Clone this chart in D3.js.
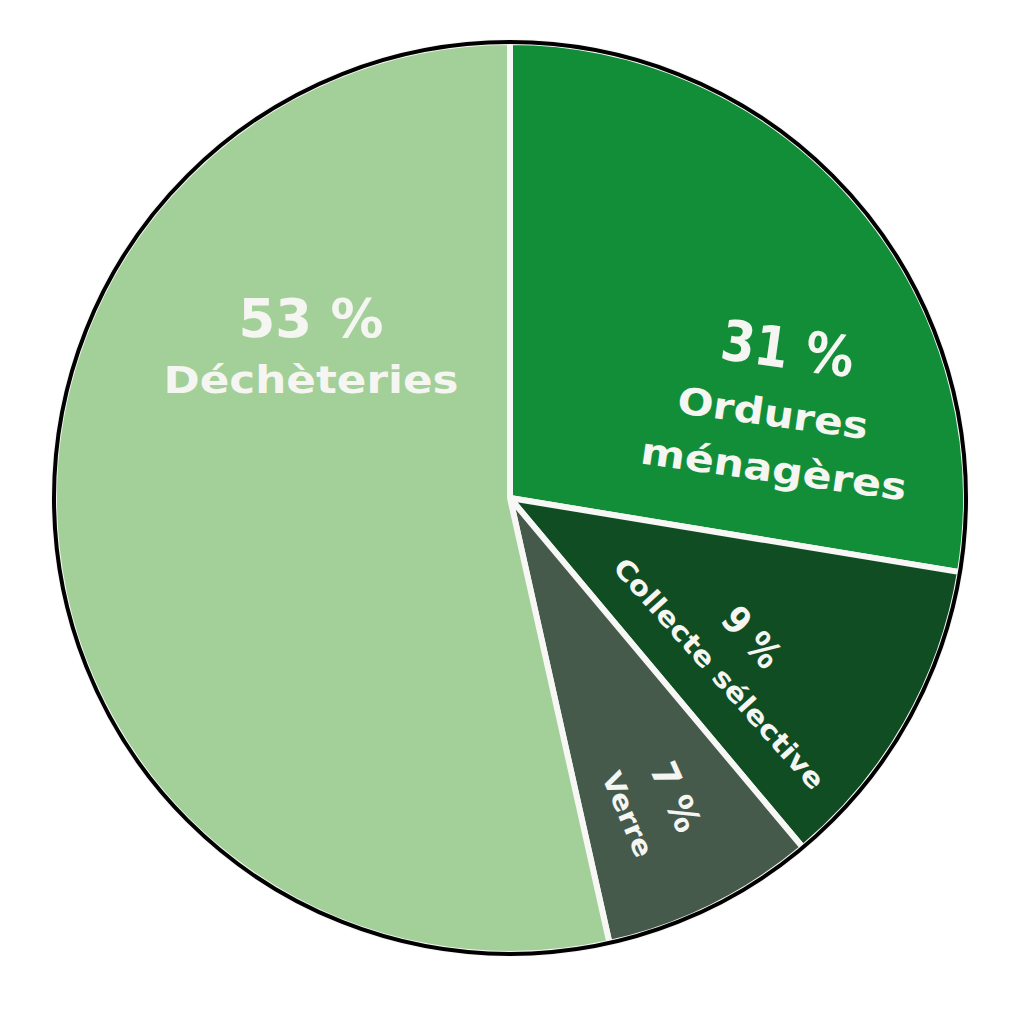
<!DOCTYPE html>
<html>
<head>
<meta charset="utf-8">
<script src="https://cdn.jsdelivr.net/npm/d3@7"></script>
<style>
  html, body { margin: 0; padding: 0; background: #ffffff; }
  svg { display: block; }
  text { font-family: "DejaVu Sans", sans-serif; font-weight: bold; fill: #f5f5f2; }
</style>
</head>
<body>
<svg id="chart" width="1024" height="1019"></svg>
<script>
const categories = ["Ordures ménagères", "Collecte sélective", "Verre", "Déchèteries"];
const sliceValues = [27.6, 11.3, 7.6, 53.5];
const percentLabels = ["31 %", "9 %", "7 %", "53 %"];
const nameLines = [["Ordures", "ménagères"], ["Collecte sélective"], ["Verre"], ["Déchèteries"]];
const colors = ["#138e38", "#114d23", "#465a4c", "#a3cf98"];

// Layout (not data)
const cx = 510, cy = 498, radius = 456;
const labelLayout = [
  { pct: { x: 785, y: 368, size: 56, rot: 8, len: 134 },
    names: [ { x: 771, y: 426, size: 37, rot: 8, len: 192 }, { x: 772, y: 482, size: 37, rot: 8, len: 268 } ] },
  { pct: { x: 742, y: 646, size: 38, rot: 48, len: 68 },
    names: [ { x: 712, y: 680, size: 27, rot: 48, len: 300 } ] },
  { pct: { x: 664, y: 802, size: 37, rot: 66, len: 72 },
    names: [ { x: 619, y: 818, size: 27, rot: 67, len: 90 } ] },
  { pct: { x: 311, y: 337, size: 54, rot: 0, len: 145 },
    names: [ { x: 311, y: 393, size: 37, rot: 0, len: 295 } ] }
];

const svg = d3.select("#chart");
const g = svg.append("g").attr("transform", `translate(${cx},${cy})`);

const pie = d3.pie().sort(null).value(d => d).startAngle(0).endAngle(2 * Math.PI);
const arcs = pie(sliceValues);
const arc = d3.arc().innerRadius(0).outerRadius(radius);

g.selectAll("path.slice")
  .data(arcs)
  .join("path")
  .attr("class", "slice")
  .attr("d", arc)
  .attr("fill", (d, i) => colors[i])
  .attr("stroke", "#f7f7f5")
  .attr("stroke-width", 6)
  .attr("stroke-linejoin", "round");

g.append("circle")
  .attr("r", radius)
  .attr("fill", "none")
  .attr("stroke", "#000")
  .attr("stroke-width", 4);

const labels = svg.append("g");
function addText(p, str) {
  labels.append("text")
    .attr("transform", `translate(${p.x},${p.y}) rotate(${p.rot})`)
    .attr("text-anchor", "middle")
    .attr("textLength", p.len)
    .attr("lengthAdjust", "spacingAndGlyphs")
    .style("font-size", p.size + "px")
    .text(str);
}
categories.forEach((c, i) => {
  const L = labelLayout[i];
  addText(L.pct, percentLabels[i]);
  nameLines[i].forEach((line, j) => addText(L.names[j], line));
});
</script>
</body>
</html>
